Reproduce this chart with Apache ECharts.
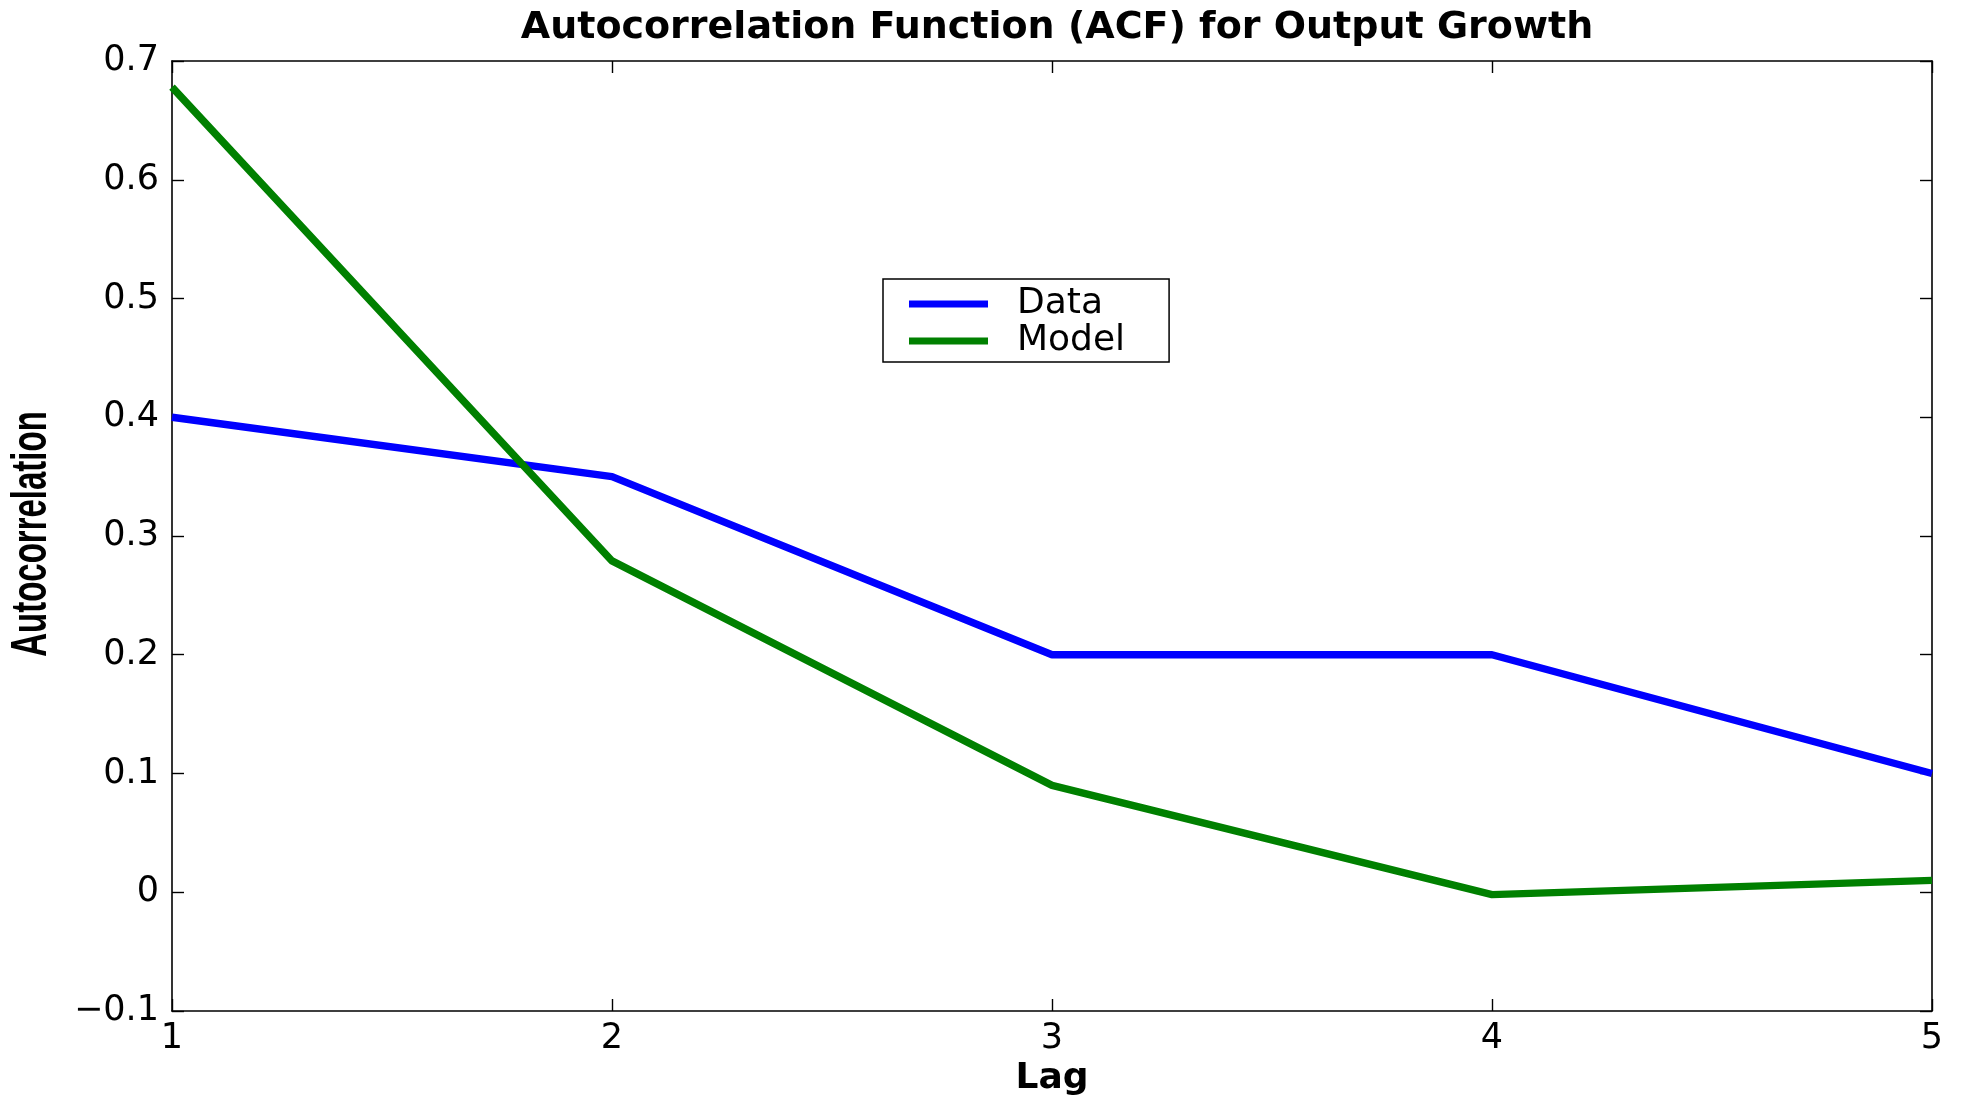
<!DOCTYPE html>
<html>
<head>
    <meta charset="utf-8" />
    <title>ACF Output Growth</title>
    <script type="text/javascript" src="https://cdn.jsdelivr.net/npm/echarts@6/dist/echarts.min.js"></script>
    <style>
        html, body { margin: 0; padding: 0; background: #fff; }
        #chart { width: 1965px; height: 1095px; }
    </style>
</head>
<body>
<div id="chart"></div>
<script type="text/javascript">
    // lags on the x axis
    var lags = [1, 2, 3, 4, 5];
    // autocorrelations
    var dataAcf = [0.40, 0.35, 0.20, 0.20, 0.10];
    var modelAcf = [0.678, 0.279, 0.09, -0.002, 0.01];

    // the original text is a wide helvetica, DejaVu is the closest wide face here
    var font = 'DejaVu Sans, Liberation Sans, sans-serif';

    function pairs(vals) {
        var out = [];
        for (var i = 0; i < lags.length; i++) {
            out.push([lags[i], vals[i]]);
        }
        return out;
    }

    var axisLine = { show: true, onZero: false, lineStyle: { color: '#000', width: 1.6 } };
    var tickIn = { show: true, inside: true, length: 12, lineStyle: { color: '#000', width: 1.4 } };

    var myChart = echarts.init(document.getElementById('chart'));
    var option = {
        backgroundColor: '#fff',
        animation: false,
        title: {
            text: 'Autocorrelation Function (ACF) for Output Growth',
            left: 1052,
            top: 4,
            textAlign: 'center',
            textStyle: { fontFamily: font, fontWeight: 'bold', fontSize: 38, color: '#000' }
        },
        // y label is tall and narrow in the original, so draw it squeezed
        graphic: [
            {
                type: 'text',
                x: 32,
                y: 534,
                rotation: Math.PI / 2,
                scaleX: 0.66,
                style: {
                    text: 'Autocorrelation',
                    fontFamily: 'Liberation Sans, Arial, sans-serif',
                    fontWeight: 'bold',
                    fontSize: 50,
                    fill: '#000',
                    align: 'center',
                    verticalAlign: 'middle'
                }
            }
        ],
        legend: {
            orient: 'vertical',
            left: 883,
            top: 279,
            padding: [7, 44, 3, 26],
            itemGap: 1,
            itemWidth: 79,
            itemHeight: 7,
            icon: 'rect',
            borderColor: '#000',
            borderWidth: 1.5,
            backgroundColor: '#fff',
            textStyle: { fontFamily: font, fontSize: 36, color: '#000', padding: [0, 0, 0, 24] },
            data: ['Data', 'Model']
        },
        grid: { left: 172, right: 33, top: 61, bottom: 84, outerBoundsMode: 'none' },
        xAxis: [
            {
                type: 'value', min: 1, max: 5, interval: 1,
                name: 'Lag', nameLocation: 'middle', nameGap: 41,
                nameTextStyle: { fontFamily: font, fontWeight: 'bold', fontSize: 36, color: '#000' },
                axisLine: axisLine, axisTick: tickIn, splitLine: { show: false },
                axisLabel: { fontFamily: font, fontSize: 35, color: '#000', margin: 10 }
            },
            {
                type: 'value', min: 1, max: 5, interval: 1, position: 'top',
                axisLine: axisLine, axisTick: tickIn, splitLine: { show: false },
                axisLabel: { show: false }
            }
        ],
        yAxis: [
            {
                type: 'value', min: -0.1, max: 0.7, interval: 0.1,
                axisLine: axisLine, axisTick: tickIn, splitLine: { show: false },
                axisLabel: {
                    fontFamily: font, fontSize: 35, color: '#000', margin: 13,
                    formatter: function (v) {
                        var s = (Math.round(v * 10) / 10).toString();
                        return s.replace('-', '\u2212');
                    }
                }
            },
            {
                type: 'value', min: -0.1, max: 0.7, interval: 0.1, position: 'right',
                axisLine: axisLine, axisTick: tickIn, splitLine: { show: false },
                axisLabel: { show: false }
            }
        ],
        series: [
            {
                name: 'Data', type: 'line', data: pairs(dataAcf),
                showSymbol: false, symbol: 'none',
                lineStyle: { color: '#0000ff', width: 7.5 },
                itemStyle: { color: '#0000ff' }
            },
            {
                name: 'Model', type: 'line', data: pairs(modelAcf),
                showSymbol: false, symbol: 'none',
                lineStyle: { color: '#008000', width: 7.5 },
                itemStyle: { color: '#008000' }
            }
        ]
    };
    myChart.setOption(option);
</script>
</body>
</html>
